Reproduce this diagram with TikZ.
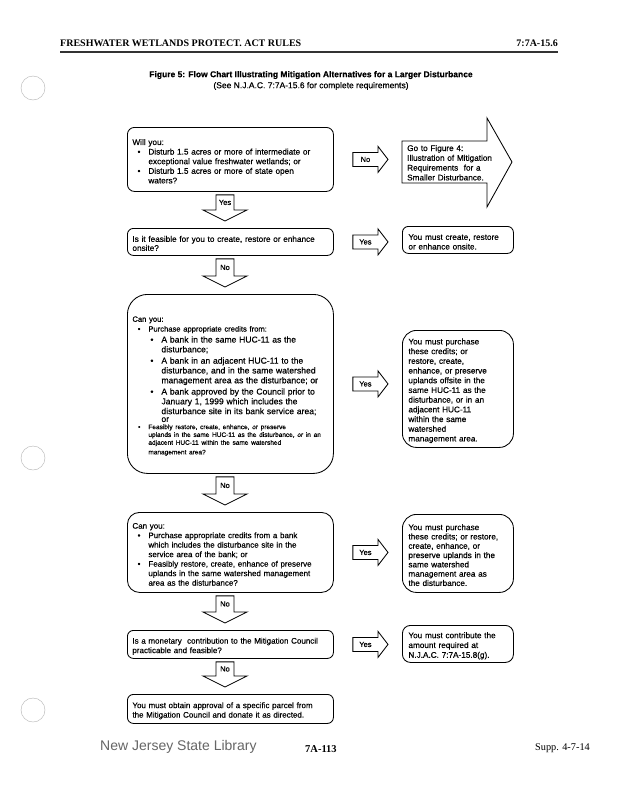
\documentclass[tikz,border=0pt]{standalone}
\usepackage{fontspec}
\setmainfont{Liberation Sans}[FakeBold=0.45]
\newfontfamily\plainsans{Liberation Sans}
\newfontfamily\seriffont{Liberation Serif}
\usetikzlibrary{calc}
\newcommand\fs[2]{\fontsize{#1}{#2}\selectfont}
\newcommand\Ln[2]{\par\noindent\hspace*{#1pt}#2}
\newcommand\Bl[2]{\par\noindent\hspace*{#1pt}\llap{\textbullet\hspace{8pt}}#2}
\tikzset{
  box/.style={draw, line width=0.85pt, rounded corners=7pt, anchor=north west,
    inner xsep=5pt, inner ysep=0pt, align=left, font=\fs{8.2}{9.6}},
  lbox/.style={box, text width=196pt, minimum width=206pt},
  rbox/.style={box, inner xsep=6pt, text width=99pt, minimum width=111pt},
  arr/.style={draw, line width=0.85pt, fill=white, line join=miter},
  lbl/.style={font=\fs{7.5}{9}, inner sep=0pt},
  hole/.style={draw=black!30, line width=0.4pt},
}
% down block arrow between two named boxes
\newcommand\darr[3]{%
  \coordinate (t) at (#1.south -| ax);
  \coordinate (b) at (#2.north -| ax);
  \draw[arr] ($(t)+(-9,3)$) -- ($(t)+(9,3)$) -- ($(b)+(9,-18)$) -- ($(b)+(22,-18)$)
    -- ($(b)+(0,-7)$) -- ($(b)+(-22,-18)$) -- ($(b)+(-9,-18)$) -- cycle;
  \coordinate (hb) at ($(b)+(0,-18)$);
  \coordinate (tt) at ($(t)+(0,3)$);
  \node[lbl] at ($(tt)!0.5!(hb)$) {#3};
}
% right block arrow between two named boxes
\newcommand\rarr[3]{%
  \coordinate (s) at ($(#1.east)+(19,0)$);
  \coordinate (e) at ($(#2 |- #1.east)+(-14,0)$);
  \coordinate (hb) at ($(e)+(-10,0)$);
  \draw[arr] ($(s)+(0,-7)$) -- ($(hb)+(0,-7)$) -- ($(hb)+(0,-13)$) -- (e)
    -- ($(hb)+(0,13)$) -- ($(hb)+(0,7)$) -- ($(s)+(0,7)$) -- cycle;
  \node[lbl] at ($(s)!0.5!(hb)$) {#3};
}
\begin{document}
\begin{tikzpicture}[x=1pt,y=-1pt]
\useasboundingbox (0,0) rectangle (618,800);
\fill[white] (0,0) rectangle (618,800);

% punch holes
\draw[hole] (33,88) circle (12);
\draw[hole] (33,458) circle (12);
\draw[hole] (33,710) circle (12);

% header
\node[anchor=west, inner sep=0pt, font=\seriffont\bfseries\fs{10}{12}] (hdr) at (60,43) {FRESHWATER WETLANDS PROTECT. ACT RULES};
\node[anchor=east, inner sep=0pt, font=\seriffont\bfseries\fs{10}{12}] (hdrr) at (558,43) {7:7A-15.6};
\draw[line width=1.3pt, black!80] (60,52) -- (558,52);

% title
\node[align=center, inner sep=0pt, font=\fs{8.5}{11}] (title) at (311,80.5)
  {\textbf{Figure 5: Flow Chart Illustrating Mitigation Alternatives for a Larger Disturbance}\\
   (See N.J.A.C. 7:7A-15.6 for complete requirements)};

\coordinate (ax) at (225,0);

% left column
\node[lbox, minimum height=64pt] (b1) at (127,127) {%
  \Ln{0}{Will you:}
  \Bl{16}{Disturb 1.5 acres or more of intermediate or}
  \Ln{16}{exceptional value freshwater wetlands; or}
  \Bl{16}{Disturb 1.5 acres or more of state open}
  \Ln{16}{waters?}};

\node[lbox, minimum height=27pt, rounded corners=6pt, font=\fs{8.2}{9}] (b2) at (127,228) {%
  \Ln{0}{Is it feasible for you to create, restore or enhance}
  \Ln{0}{onsite?}};

\node[lbox, minimum height=179pt, rounded corners=20pt] (b3) at (127,294) {%
  \fs{7.6}{9.6}\Ln{0}{Can you:}
  \Bl{16}{Purchase appropriate credits from:}
  \fs{8.6}{9.8}\par\vspace{1.2pt}%
  \Bl{29}{A bank in the same HUC-11 as the}
  \Ln{29}{disturbance;}\par\vspace{1.5pt}%
  \Bl{29}{A bank in an adjacent HUC-11 to the}
  \Ln{29}{disturbance, and in the same watershed}
  \Ln{29}{management area as the disturbance; or}\par\vspace{1.5pt}%
  \Bl{29}{A bank approved by the Council prior to}
  \Ln{29}{January 1, 1999 which includes the}
  \Ln{29}{disturbance site in its bank service area;}
  \Ln{29}{or}
  \fs{6.5}{7.8}\par\vspace{-0.6pt}%
  \Bl{16}{Feasibly restore, create, enhance, or preserve}
  \Ln{16}{uplands in the same HUC-11 as the disturbance, or in an}
  \Ln{16}{adjacent HUC-11 within the same watershed}
  \Ln{16}{management area?}};

\node[lbox, minimum height=80pt, rounded corners=12pt, font=\fs{8}{9.5}] (b5) at (127,512) {%
  \Ln{0}{Can you:}
  \Bl{16}{Purchase appropriate credits from a bank}
  \Ln{16}{which includes the disturbance site in the}
  \Ln{16}{service area of the bank; or}
  \Bl{16}{Feasibly restore, create, enhance of preserve}
  \Ln{16}{uplands in the same watershed management}
  \Ln{16}{area as the disturbance?}};

\node[lbox, minimum height=28pt, rounded corners=6pt, font=\fs{8}{9.5}] (b7) at (127,630) {%
  \Ln{0}{Is a monetary\ \ contribution to the Mitigation Council}
  \Ln{0}{practicable and feasible?}};

\node[lbox, minimum height=29pt, rounded corners=6pt, font=\fs{8}{9.5}] (b8) at (127,694) {%
  \Ln{0}{You must obtain approval of a specific parcel from}
  \Ln{0}{the Mitigation Council and donate it as directed.}};

% right column
\draw[arr] (402,141) -- (487,141) -- (487,118) -- (512,162) -- (487,207) -- (487,183) -- (402,183) -- cycle;
\coordinate (gow) at (402,162);
\node[anchor=north west, align=left, inner sep=0pt, text width=85pt, font=\fs{8.2}{9.8}] (go) at (407,141) {%
  \Ln{0}{Go to Figure 4:}
  \Ln{0}{Illustration of Mitigation}
  \Ln{0}{Requirements\ \ for a}
  \Ln{0}{Smaller Disturbance.}};

\node[rbox, minimum height=27pt, rounded corners=6pt, font=\fs{8.2}{9.6}] (r2) at (402,226) {%
  \Ln{0}{You must create, restore}
  \Ln{0}{or enhance onsite.}};

\node[rbox, minimum height=117pt, rounded corners=14pt, font=\fs{8.2}{9.7}] (r3) at (402,330) {%
  \Ln{0}{You must purchase}
  \Ln{0}{these credits; or}
  \Ln{0}{restore, create,}
  \Ln{0}{enhance, or preserve}
  \Ln{0}{uplands offsite in the}
  \Ln{0}{same HUC-11 as the}
  \Ln{0}{disturbance, or in an}
  \Ln{0}{adjacent HUC-11}
  \Ln{0}{within the same}
  \Ln{0}{watershed}
  \Ln{0}{management area.}};

\node[rbox, minimum height=78pt, rounded corners=14pt, font=\fs{8.2}{9.3}] (r5) at (402,514) {%
  \Ln{0}{You must purchase}
  \Ln{0}{these credits; or restore,}
  \Ln{0}{create, enhance, or}
  \Ln{0}{preserve uplands in the}
  \Ln{0}{same watershed}
  \Ln{0}{management area as}
  \Ln{0}{the disturbance.}};

\node[rbox, minimum height=37pt, rounded corners=8pt, font=\fs{8.2}{9.8}] (r7) at (402,625) {%
  \Ln{0}{You must contribute the}
  \Ln{0}{amount required at}
  \Ln{0}{N.J.A.C. 7:7A-15.8(g).}};

% connectors
\darr{b1}{b2}{Yes}
\darr{b2}{b3}{No}
\darr{b3}{b5}{No}
\darr{b5}{b7}{No}
\darr{b7}{b8}{No}
\rarr{b1}{gow}{No}
\rarr{b2}{r2.west}{Yes}
\rarr{b3}{r3.west}{Yes}
\rarr{b5}{r5.west}{Yes}
\rarr{b7}{r7.west}{Yes}

% footer
\node[anchor=west, inner sep=0pt, text=black!60, font=\plainsans\fs{14}{16}] (lib) at (100,747) {New Jersey State Library};
\node[anchor=west, inner sep=0pt, font=\seriffont\bfseries\fs{10.5}{12}] (pg) at (305,749) {7A-113};
\node[anchor=east, inner sep=0pt, font=\seriffont\fs{10.3}{12}] (supp) at (590,748) {Supp. 4-7-14};
\end{tikzpicture}
\end{document}
